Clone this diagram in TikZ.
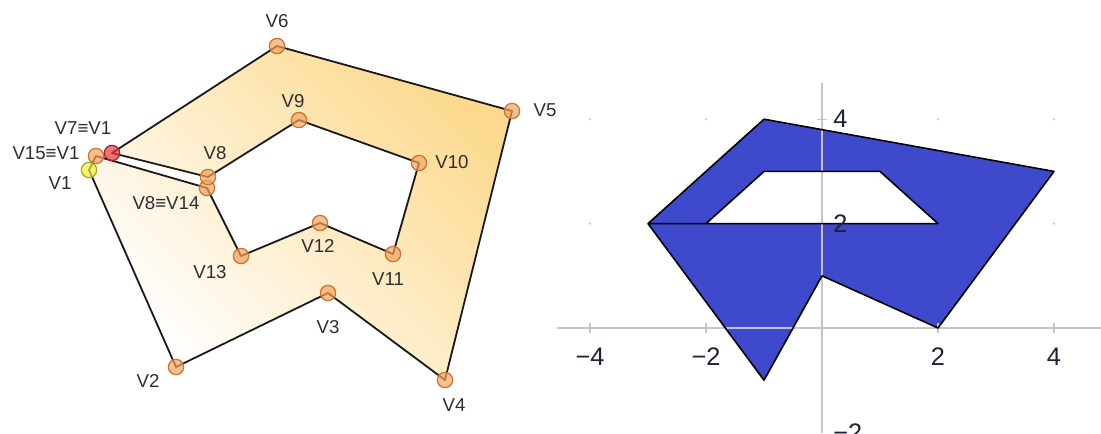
\documentclass[tikz,border=0pt]{standalone}
\usepackage{fontspec}
\setmainfont{Liberation Sans}
\definecolor{vertexFill}{HTML}{F5A25E}
\definecolor{vertexEdge}{HTML}{C8742F}
\definecolor{startRed}{HTML}{E8393F}
\definecolor{startRedEdge}{HTML}{A82028}
\definecolor{firstYellow}{HTML}{EEEE3C}
\definecolor{firstYellowEdge}{HTML}{A8A820}
\definecolor{bandOrange}{HTML}{FCD98E}
\definecolor{labelGrey}{HTML}{2E2E2E}
\definecolor{plotBlue}{HTML}{3F49CC}
\definecolor{axisGrey}{HTML}{C6C6C6}
\definecolor{tickNavy}{HTML}{1E2238}
\usetikzlibrary{positioning}

\begin{document}
\begin{tikzpicture}[
        x=0.75pt, y=-0.75pt,
        vertex/.style={circle, draw=vertexEdge, fill=vertexFill, fill opacity=0.7, draw opacity=1,
                       line width=0.9pt, minimum size=11.5pt, inner sep=0pt},
        vlabel/.style={font=\fontsize{14}{16}\selectfont, text=labelGrey, inner sep=0pt},
        edge/.style={line width=1.35pt, black!90, line join=round},
        axis/.style={axisGrey, line width=1.4pt},
        ticklabel/.style={font=\fontsize{19}{21}\selectfont, text=tickNavy, inner sep=0pt}
      ]
        \useasboundingbox (0,0) rectangle (1101,433);

        % left: polygon with a hole, cut open by a slit
        \coordinate (p1) at (89,170);
        \coordinate (p2) at (176,367);
        \coordinate (p3) at (328,293);
        \coordinate (p4) at (445,380);
        \coordinate (p5) at (512,111);
        \coordinate (p6) at (277,46);
        \coordinate (p7) at (112,153);
        \coordinate (p8) at (208,177);
        \coordinate (p9) at (299,120);
        \coordinate (p10) at (419,163);
        \coordinate (p11) at (393,254);
        \coordinate (p12) at (320,223);
        \coordinate (p13) at (241,256);
        \coordinate (p14) at (207,188);
        \coordinate (p15) at (96,156);

        \shade[shading=axis, bottom color=white, top color=bandOrange, shading angle=-45]
          (p1) -- (p2) -- (p3) -- (p4) -- (p5) -- (p6) -- (p7) -- (p8) -- (p9) -- (p10)
          -- (p11) -- (p12) -- (p13) -- (p14) -- (p15) -- cycle;
        \draw[edge] (p1) -- (p2) -- (p3) -- (p4) -- (p5) -- (p6) -- (p7) -- (p8) -- (p9) -- (p10)
          -- (p11) -- (p12) -- (p13) -- (p14) -- (p15) -- cycle;

        \node[vertex, fill=firstYellow, draw=firstYellowEdge] (V1) at (p1) {};
        \foreach \i in {2,...,6,9,10,...,14} {
          \node[vertex] (V\i) at (p\i) {};
        }
        \node[vertex] (V8) at (p8) {};
        \node[vertex] (V15) at (p15) {};
        \node[vertex, fill=startRed, draw=startRedEdge] (V7) at (p7) {};

        \node[vlabel] (lV1) at (60,183) {V1};
        \node[vlabel] (lV2) at (148,381) {V2};
        \node[vlabel] (lV3) at (328,327) {V3};
        \node[vlabel] (lV4) at (454,405) {V4};
        \node[vlabel] (lV5) at (545,110) {V5};
        \node[vlabel] (lV6) at (277,21) {V6};
        \node[vlabel] (lV7) at (83,128) {V7≡V1};
        \node[vlabel] (lV8) at (215,153) {V8};
        \node[vlabel] (lV9) at (293,101) {V9};
        \node[vlabel] (lV10) at (452,162) {V10};
        \node[vlabel] (lV11) at (388,279) {V11};
        \node[vlabel] (lV12) at (318,246) {V12};
        \node[vlabel] (lV13) at (210,272) {V13};
        \node[vlabel] (lV14) at (166,203) {V8≡V14};
        \node[vlabel] (lV15) at (46,153) {V15≡V1};

        % right: the same kind of region plotted on axes
        \begin{scope}[shift={(822,328)}]
        \begin{scope}[x=43.5pt, y=39.15pt]
          \foreach \gx in {-4,-2,2,4}
            \foreach \gy in {2,4}
              \fill[axisGrey] (\gx,\gy) circle (0.9pt);
          \fill[plotBlue, even odd rule] (-3,2) -- (-1,-1) -- (0,1) -- (2,0) -- (4,3) -- (-1,4) -- cycle
            (-2,2) -- (-1,3) -- (1,3) -- (2,2) -- cycle;
          \draw[axis] (-4.57,0) -- (4.82,0);
          \draw[axis] (0,-2.02) -- (0,4.7);
          \foreach \gx in {-4,-2,2,4}
            \draw[axis, line width=1pt] ([yshift=-3.8pt]\gx,0) -- ([yshift=3.8pt]\gx,0);
          \foreach \gy in {2,4}
            \draw[axis, line width=1pt] ([xshift=-3.8pt]0,\gy) -- ([xshift=3.8pt]0,\gy);
          \draw[line width=1.2pt, black, line join=round] (-3,2) -- (-1,-1) -- (0,1) -- (2,0) -- (4,3) -- (-1,4)
            -- (-3,2) -- (2,2) -- (1,3) -- (-1,3) -- (-2,2);
          \foreach \gx/\txt in {-4/−4,-2/−2,2/2,4/4}
            \node[ticklabel] (xt\gx) at ([yshift=-21.8pt]\gx,0) {\txt};
          \foreach \gy/\txt in {4/4,2/2,-2/−2}
            \node[ticklabel, anchor=west] (yt\gy) at ([xshift=8.3pt]0,\gy) {\txt};
        \end{scope}
        \end{scope}
      \end{tikzpicture}
\end{document}
